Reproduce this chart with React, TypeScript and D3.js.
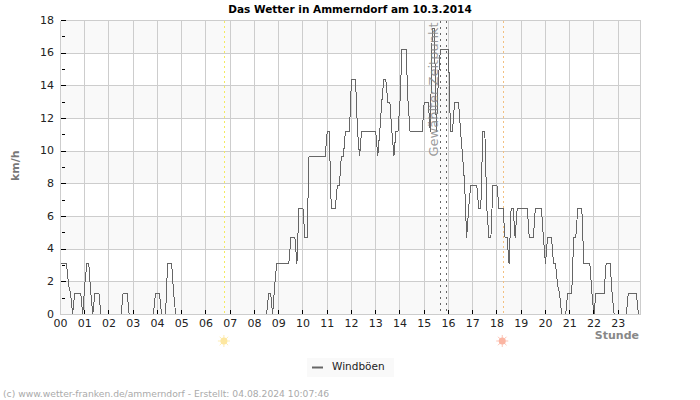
import { useRef, useEffect } from 'react';
import * as d3 from 'd3';

// gusts in km/h, one row per hour, 5 minute samples
const gusts: number[] = [
  3.1, 3.1, 3.1, 3.1, 1.8, 1.3, 0, 1.3, 1.3, 1.3, 1.3, 0,
  1.8, 3.1, 3.1, 1.3, 0, 1.3, 1.3, 1.3, 0, 0, 0, 0,
  0, 0, 0, 0, 0, 0, 0, 1.3, 1.3, 1.3, 0, 0,
  0, 0, 0, 0, 0, 0, 0, 0, 0, 0, 0, 1.3,
  1.3, 1.3, 0, 0, 0, 3.1, 3.1, 3.1, 1.3, 0, 0, 0,
  0, 0, 0, 0, 0, 0, 0, 0, 0, 0, 0, 0,
  0, 0, 0, 0, 0, 0, 0, 0, 0, 0, 0, 0,
  0, 0, 0, 0, 0, 0, 0, 0, 0, 0, 0, 0,
  0, 0, 0, 0, 0, 0, 0, 1.3, 1.3, 0, 1.8, 3.1,
  3.1, 3.1, 3.1, 3.1, 3.1, 3.1, 4.7, 4.7, 4.7, 3.1, 6.5, 6.5,
  6.5, 4.7, 4.7, 9.7, 9.7, 9.7, 9.7, 9.7, 9.7, 9.7, 9.7, 9.7,
  11.2, 11.2, 6.5, 6.5, 6.5, 7.9, 7.9, 9.7, 9.7, 11.2, 11.2, 11.2,
  14.4, 14.4, 14.4, 11.2, 9.7, 11.2, 11.2, 11.2, 11.2, 11.2, 11.2, 11.2,
  11.2, 9.7, 11.2, 13, 14.4, 14.4, 13, 13, 11.2, 9.7, 11.2, 11.2,
  13, 16.2, 16.2, 16.2, 13, 11.2, 11.2, 11.2, 11.2, 11.2, 11.2, 11.2,
  13, 13, 13, 11.2, 17.5, 17.5, 11.2, 14.4, 16.2, 16.2, 16.2, 16.2,
  16.2, 11.2, 11.2, 13, 13, 13, 11.2, 9.7, 8, 4.7, 6.5, 7.9,
  7.9, 7.9, 7.9, 6.5, 6.5, 11.2, 11.2, 6.5, 4.7, 4.7, 7.9, 7.9,
  7.9, 6.5, 6.5, 6.5, 4.7, 4.7, 3.1, 6.5, 6.5, 4.7, 6.5, 6.5,
  6.5, 6.5, 6.5, 6.5, 4.7, 4.7, 4.7, 6.5, 6.5, 6.5, 6.5, 4.7,
  3.1, 4.7, 4.7, 4.7, 3.1, 3.1, 1.8, 1.3, 0, 0, 0, 1.3,
  1.3, 1.3, 4.7, 4.7, 6.5, 6.5, 6.5, 3.1, 3.1, 3.1, 3.1, 1.3,
  0, 1.3, 1.3, 1.3, 1.3, 1.3, 3.1, 3.1, 3.1, 1.3, 0, 0,
  0, 0, 0, 0, 0, 1.3, 1.3, 1.3, 1.3, 1.3, 0, 0,
];

const hours = d3.range(0, 24);
const yMajor = d3.range(0, 19, 2);
const yMinor = d3.range(1, 18, 2);
const bands = [0, 4, 8, 12, 16];

const sunrise = 6.78;
const sunset = 18.26;
const selected = [15.67, 15.92];

const font = '"DejaVu Sans", sans-serif';

const App = () => {
  const svgRef = useRef<SVGSVGElement>(null);

  useEffect(() => {
    const svg = d3.select(svgRef.current);
    svg.selectAll('*').remove();

    const x = d3.scaleLinear().domain([0, 23.92]).range([60.5, 640.5]);
    const y = d3.scaleLinear().domain([0, 18]).range([314.5, 20.5]);

    svg.append('rect').attr('width', 700).attr('height', 400).attr('fill', '#fff');

    // shaded bands
    svg.append('g').selectAll('rect')
      .data(bands)
      .join('rect')
      .attr('x', x(0))
      .attr('width', x(23.92) - x(0))
      .attr('y', d => y(d + 2))
      .attr('height', d => y(d) - y(d + 2))
      .attr('fill', '#f9f9f9');

    // grid
    const grid = svg.append('g').attr('stroke', '#cdcdcd').attr('shape-rendering', 'crispEdges');
    grid.selectAll('line.h')
      .data(yMajor)
      .join('line')
      .attr('class', 'h')
      .attr('x1', x(0))
      .attr('x2', x(23.92))
      .attr('y1', d => y(d))
      .attr('y2', d => y(d));
    grid.selectAll('line.v')
      .data([...hours, 23.92])
      .join('line')
      .attr('class', 'v')
      .attr('x1', d => x(d))
      .attr('x2', d => x(d))
      .attr('y1', y(0))
      .attr('y2', y(18));

    // sunrise, sunset and the selected time
    const marker = (h: number, color: string, dash: string) => {
      svg.append('line')
        .attr('x1', x(h))
        .attr('x2', x(h))
        .attr('y1', y(18))
        .attr('y2', y(0))
        .attr('stroke', color)
        .attr('stroke-dasharray', dash)
        .attr('shape-rendering', 'crispEdges');
    };
    marker(sunrise, '#f5ea60', '2,3');
    marker(sunset, '#f3c080', '2,3');
    selected.forEach(h => marker(h, '#666', '2,4'));

    // the series
    const line = d3.line<number>()
      .x((d, i) => x(i / 12))
      .y(d => y(d));
    svg.append('path')
      .attr('d', line(gusts))
      .attr('fill', 'none')
      .attr('stroke', '#666')
      .attr('stroke-width', 1)
      .attr('shape-rendering', 'crispEdges');

    // label sits on top of the line
    svg.append('text')
      .attr('transform', `translate(437.5,156.5) rotate(-90)`)
      .attr('font-family', font)
      .attr('font-size', 13)
      .attr('fill', '#888')
      .attr('fill-opacity', 0.85)
      .text('Gewählter Zeitpunkt');

    // axes
    const yAxis = svg.append('g').attr('font-family', font).attr('font-size', 11);
    yAxis.selectAll('line.major')
      .data(yMajor)
      .join('line')
      .attr('class', 'major')
      .attr('x1', x(0))
      .attr('x2', x(0) + 5)
      .attr('y1', d => y(d))
      .attr('y2', d => y(d))
      .attr('stroke', '#000')
      .attr('shape-rendering', 'crispEdges');
    yAxis.selectAll('line.minor')
      .data(yMinor)
      .join('line')
      .attr('class', 'minor')
      .attr('x1', x(0) + 1)
      .attr('x2', x(0) + 4)
      .attr('y1', d => y(d))
      .attr('y2', d => y(d))
      .attr('stroke', '#000')
      .attr('shape-rendering', 'crispEdges');
    yAxis.selectAll('text')
      .data(yMajor)
      .join('text')
      .attr('x', 54)
      .attr('y', d => y(d) + 3)
      .attr('text-anchor', 'end')
      .attr('fill', '#222')
      .text(d => d);

    const xAxis = svg.append('g').attr('font-family', font).attr('font-size', 11);
    xAxis.selectAll('line')
      .data(hours)
      .join('line')
      .attr('x1', d => x(d))
      .attr('x2', d => x(d))
      .attr('y1', y(0))
      .attr('y2', y(0) - 5)
      .attr('stroke', '#000')
      .attr('shape-rendering', 'crispEdges');
    xAxis.selectAll('text')
      .data(hours)
      .join('text')
      .attr('x', d => x(d))
      .attr('y', 327)
      .attr('text-anchor', 'middle')
      .attr('fill', '#222')
      .text(d => d3.format('02d')(d));

    // plot frame on the left and bottom
    svg.append('path')
      .attr('d', `M${x(0)},${y(18)}V${y(0)}H${x(23.92)}`)
      .attr('fill', 'none')
      .attr('stroke', '#cdcdcd')
      .attr('shape-rendering', 'crispEdges');

    // titles
    svg.append('text')
      .attr('x', 350)
      .attr('y', 13)
      .attr('text-anchor', 'middle')
      .attr('font-family', font)
      .attr('font-size', 10.5)
      .attr('font-weight', 'bold')
      .attr('fill', '#000')
      .text('Das Wetter in Ammerndorf am 10.3.2014');
    svg.append('text')
      .attr('transform', 'translate(19,181) rotate(-90)')
      .attr('font-family', font)
      .attr('font-size', 11)
      .attr('font-weight', 'bold')
      .attr('fill', '#777')
      .text('km/h');
    svg.append('text')
      .attr('x', 639)
      .attr('y', 338.5)
      .attr('text-anchor', 'end')
      .attr('font-family', font)
      .attr('font-size', 11)
      .attr('font-weight', 'bold')
      .attr('fill', '#888')
      .text('Stunde');

    // sun symbols under the axis
    const sun = (h: number, color: string) => {
      const g = svg.append('g').attr('transform', `translate(${x(h) - 1},341)`);
      g.selectAll('line')
        .data(d3.range(0, 360, 45))
        .join('line')
        .attr('x2', d => 6 * Math.cos((d * Math.PI) / 180))
        .attr('y2', d => 6 * Math.sin((d * Math.PI) / 180))
        .attr('stroke', color)
        .attr('stroke-opacity', 0.8);
      g.append('circle').attr('r', 3.5).attr('fill', color);
    };
    sun(sunrise, '#fde7a0');
    sun(sunset, '#fbb5a2');

    // legend
    svg.append('rect')
      .attr('x', 307)
      .attr('y', 358)
      .attr('width', 87)
      .attr('height', 19)
      .attr('fill', '#f9f9f9');
    svg.append('line')
      .attr('x1', 312)
      .attr('x2', 323)
      .attr('y1', 367.5)
      .attr('y2', 367.5)
      .attr('stroke', '#666')
      .attr('stroke-width', 2);
    svg.append('text')
      .attr('x', 332)
      .attr('y', 370)
      .attr('font-family', font)
      .attr('font-size', 10.5)
      .attr('fill', '#222')
      .text('Windböen');

    // footer
    svg.append('text')
      .attr('x', 3)
      .attr('y', 397)
      .attr('font-family', font)
      .attr('font-size', 9.2)
      .attr('fill', '#aaa')
      .text('(c) www.wetter-franken.de/ammerndorf - Erstellt: 04.08.2024 10:07:46');
  }, []);

  return <svg ref={svgRef} width={700} height={400} style={{ position: 'absolute', left: 0, top: 0 }} />;
};

export default App;
